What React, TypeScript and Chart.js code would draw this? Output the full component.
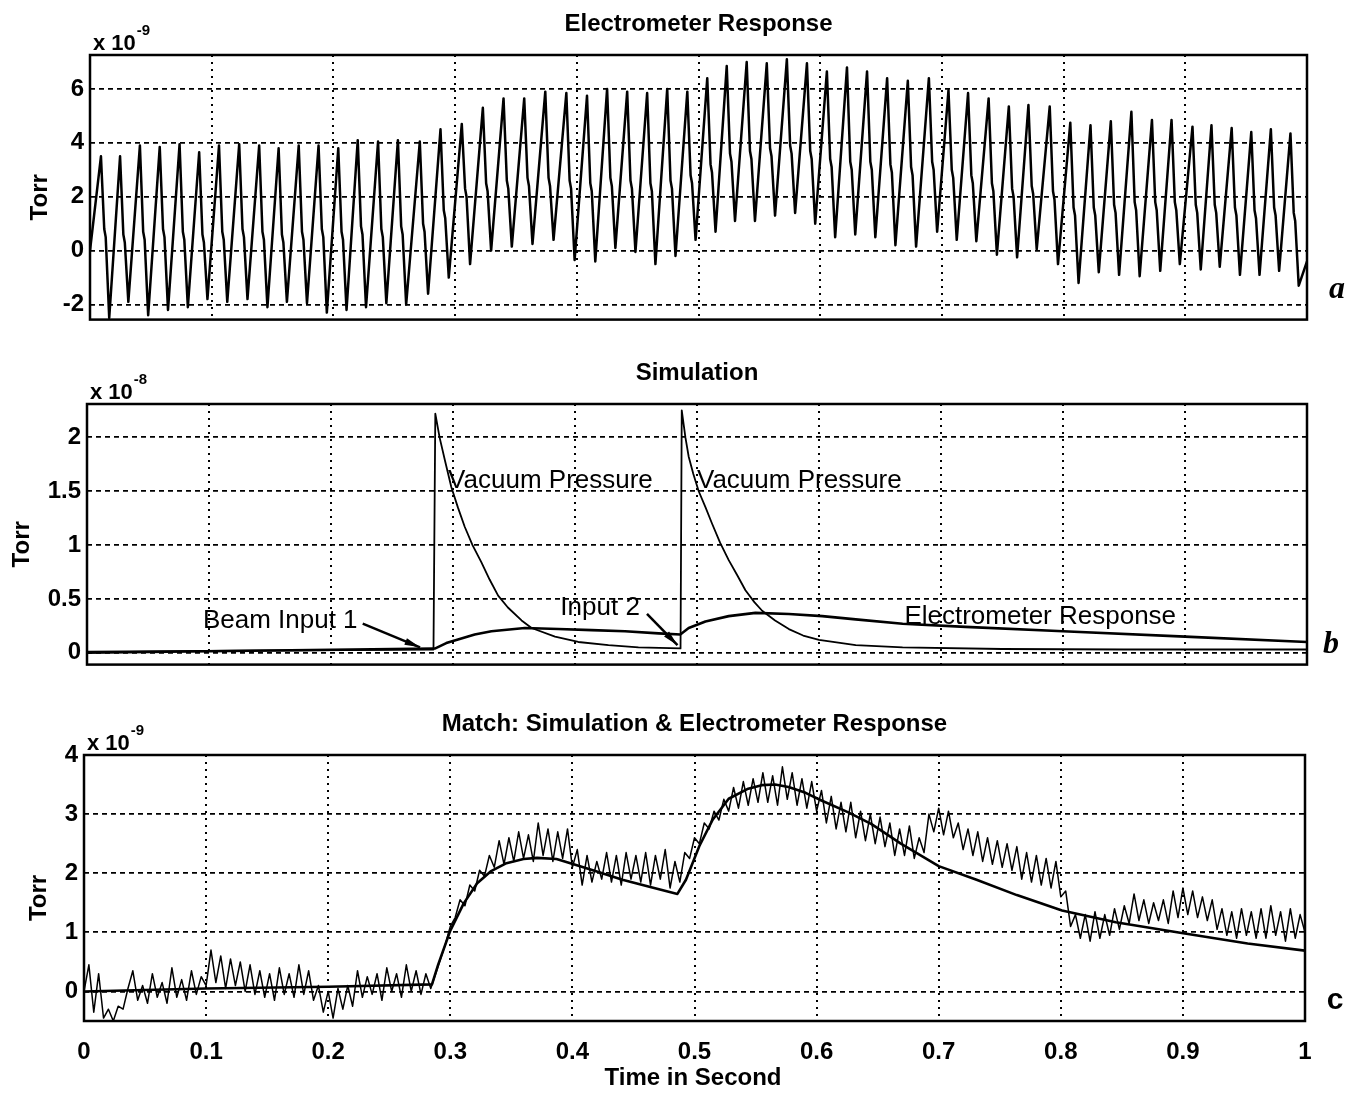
import React, { useEffect, useRef } from "react";
import { Chart, registerables } from "chart.js";

Chart.register(...registerables);

const FONT = "'Liberation Sans', Arial, Helvetica, sans-serif";

// ---------- shared x axis (time in seconds) ----------
const xTicks = [0, 0.1, 0.2, 0.3, 0.4, 0.5, 0.6, 0.7, 0.8, 0.9, 1];
const xTickLabels = ["0", "0.1", "0.2", "0.3", "0.4", "0.5", "0.6", "0.7", "0.8", "0.9", "1"];

// ---------- panel a: Electrometer Response (x 1e-9 Torr), one entry per ripple cycle ----------
const aYTicks = [-2, 0, 2, 4, 6];
const aPeakTimes = [
  0.009, 0.0247, 0.041, 0.0573, 0.0736, 0.0897, 0.106, 0.1226, 0.139, 0.155,
  0.1715, 0.1878, 0.204, 0.22, 0.2367, 0.253, 0.271, 0.288, 0.3055, 0.3228,
  0.3398, 0.3568, 0.3741, 0.3914, 0.4084, 0.4249, 0.4414, 0.4578, 0.4743, 0.4908,
  0.5072, 0.5232, 0.5396, 0.5561, 0.5726, 0.5891, 0.6055, 0.622, 0.6385, 0.655,
  0.672, 0.6893, 0.7054, 0.7215, 0.7384, 0.755, 0.7711, 0.7886, 0.8055, 0.8221,
  0.8388, 0.8557, 0.8726, 0.8887, 0.9059, 0.9215, 0.9381, 0.9542, 0.9703, 0.9864,
];
const aPeaks = [
  3.5, 3.5, 3.9, 3.85, 3.95, 3.65, 3.9, 3.95, 3.9, 3.8,
  3.9, 3.9, 3.8, 4.1, 4.05, 4.1, 4.05, 4.5, 4.7, 5.3,
  5.65, 5.65, 5.9, 5.85, 5.75, 6.0, 5.9, 5.85, 6.0, 5.9,
  6.4, 6.85, 7.0, 6.95, 7.1, 6.95, 6.65, 6.8, 6.65, 6.4,
  6.3, 6.4, 5.95, 5.85, 5.65, 5.35, 5.4, 5.35, 4.75, 4.65,
  4.8, 5.15, 4.85, 4.85, 4.6, 4.65, 4.55, 4.4, 4.5, 4.35,
];
const aShoulders = [
  0.8, 0.6, 0.7, 0.8, 0.7, 0.6, 0.7, 0.8, 0.7, 0.6,
  0.7, 0.8, 0.7, 0.9, 0.8, 0.9, 1.0, 1.5, 2.3, 2.5,
  2.6, 2.7, 2.7, 2.6, 2.5, 2.7, 2.6, 2.5, 2.6, 2.8,
  3.2, 3.6, 3.7, 3.8, 3.9, 3.7, 3.4, 3.3, 3.3, 3.2,
  3.1, 3.3, 3.0, 2.8, 2.5, 2.3, 2.4, 2.2, 1.6, 1.6,
  1.7, 1.8, 1.8, 1.8, 1.7, 1.7, 1.6, 1.5, 1.6, 1.4,
];
const aTroughs = [
  -2.5, -1.9, -2.4, -2.2, -2.1, -1.8, -1.9, -1.8, -2.1, -1.9,
  -1.95, -2.3, -2.2, -2.1, -1.95, -2.0, -1.6, -1.0, -0.5, 0.0,
  0.15, 0.25, 0.4, -0.35, -0.4, 0.1, -0.05, -0.5, -0.2, 0.4,
  0.7, 1.1, 1.1, 1.3, 1.4, 1.0, 0.5, 0.6, 0.5, 0.2,
  0.15, 0.7, 0.4, 0.35, -0.15, -0.25, 0.05, -0.5, -1.2, -0.8,
  -0.9, -0.95, -0.75, -0.5, -0.7, -0.6, -0.9, -0.9, -0.75, -1.3,
];
// waveform shape within one cycle (time lags after the peak, s)
const aShoulderLag = 0.0027;
const aShoulderEndLag = 0.0039;
const aShoulderStep = 0.3; // drop along the short shoulder step
const aTroughLag = 0.0068;
const aEdgeTimes = [0, 1];
const aEdgeValues = [0.0, -0.4];

// ---------- panel b: Simulation (x 1e-8 Torr) ----------
const bYTicks = [0, 0.5, 1, 1.5, 2];
const bVacuumTimes = [
  0, 0.284, 0.2855, 0.289, 0.2935, 0.2986, 0.304, 0.3096, 0.316, 0.3233, 0.33,
  0.337, 0.345, 0.3562, 0.3644, 0.3836, 0.4027, 0.4274, 0.452, 0.4865,
  0.4875, 0.4905, 0.4932, 0.497, 0.5014, 0.507, 0.5123, 0.519, 0.526, 0.533,
  0.5397, 0.547, 0.5534, 0.564, 0.5753, 0.587, 0.6, 0.6301, 0.6685, 0.75, 0.85, 1.0,
];
const bVacuum = [
  0.01, 0.03, 2.22, 2.0, 1.78, 1.54, 1.35, 1.17, 1.0, 0.84, 0.68,
  0.53, 0.42, 0.3, 0.23, 0.15, 0.1, 0.07, 0.05, 0.04,
  2.25, 2.0, 1.82, 1.66, 1.5, 1.35, 1.2, 1.02, 0.86, 0.72,
  0.58, 0.47, 0.39, 0.3, 0.22, 0.16, 0.12, 0.07, 0.05, 0.035, 0.03, 0.03,
];
const bResponseTimes = [
  0, 0.284, 0.2855, 0.2945, 0.3, 0.3178, 0.3315, 0.3589, 0.3863, 0.4137, 0.441,
  0.4685, 0.4863, 0.4932, 0.5069, 0.526, 0.5479, 0.5753, 0.6027, 0.6301, 0.6685,
  0.72, 0.8, 0.9, 1.0,
];
const bResponse = [
  0.0, 0.04, 0.04, 0.09, 0.11, 0.17, 0.2, 0.23, 0.22, 0.21, 0.2,
  0.18, 0.17, 0.23, 0.29, 0.34, 0.37, 0.36, 0.34, 0.31, 0.27,
  0.24, 0.2, 0.15, 0.1,
];

// ---------- panel c: Match (x 1e-9 Torr) ----------
const cYTicks = [0, 1, 2, 3, 4];
const cMeasuredStep = 0.004; // s between samples
const cMeasured = [
  0.0, 0.45, -0.35, 0.3, -0.45, -0.3, -0.5, -0.25,
  -0.3, 0.05, 0.35, -0.15, 0.1, -0.2, 0.3, -0.1, 0.15, -0.2, 0.4, -0.1, 0.2, -0.15, 0.35, -0.05, 0.25,
  0.1, 0.7, 0.15, 0.6, 0.05, 0.55, 0.1, 0.5, 0.0, 0.45, -0.05,
  0.35, -0.1, 0.3, -0.15, 0.4, -0.05, 0.3, -0.1, 0.45, -0.05, 0.35, -0.15,
  0.1, -0.35, 0.0, -0.45, 0.05, -0.3, 0.1, -0.25,
  0.35, -0.1, 0.25, -0.05, 0.3, -0.15, 0.4, 0.0, 0.3, -0.1, 0.45, 0.0, 0.35, -0.05, 0.3, 0.05,
  0.3, 0.55, 0.8, 1.1, 1.25, 1.55, 1.45, 1.8, 1.7, 2.05, 1.95,
  2.3, 2.1, 2.55, 2.15, 2.6, 2.2, 2.7, 2.25, 2.65, 2.2, 2.85, 2.3, 2.75, 2.2, 2.7, 2.25, 2.75, 2.1,
  2.4, 1.8, 2.3, 1.85, 2.2, 1.9, 2.35, 1.85, 2.3, 1.8, 2.35, 1.9, 2.3, 1.85, 2.35, 1.8, 2.3, 1.9, 2.4, 1.75, 2.2,
  1.85, 2.35, 2.25, 2.6, 2.5, 2.85, 2.75, 3.05, 2.9, 3.25, 3.05,
  3.45, 3.1, 3.55, 3.15, 3.6, 3.2, 3.7, 3.2, 3.65, 3.15, 3.8, 3.25, 3.7, 3.15, 3.6, 3.1, 3.55, 3.05,
  3.4, 2.85, 3.3, 2.75, 3.2, 2.7, 3.2, 2.6, 3.05, 2.55, 3.0, 2.5, 2.95, 2.45, 2.85, 2.3, 2.75,
  2.3, 2.8, 2.25, 2.6, 2.35,
  3.0, 2.7, 3.1, 2.65, 3.05, 2.6,
  2.85, 2.4, 2.75, 2.3, 2.7, 2.2, 2.6, 2.15, 2.55, 2.1, 2.5, 2.05, 2.45,
  1.9, 2.35, 1.85, 2.3, 1.8, 2.25, 1.75, 2.2, 1.6,
  1.7, 1.1, 1.3, 0.9, 1.3, 0.85, 1.35, 0.9, 1.3, 0.95, 1.4, 1.05, 1.45,
  1.15, 1.65, 1.2, 1.55, 1.15, 1.5, 1.2, 1.55, 1.15,
  1.7, 1.25, 1.75, 1.3, 1.7, 1.25, 1.6, 1.2, 1.55,
  1.05, 1.4, 0.95, 1.35, 0.9, 1.4, 0.95, 1.35, 0.9, 1.4, 0.9, 1.45, 0.95, 1.35, 0.85, 1.4, 0.9, 1.3, 1.0,
];
const cSimTimes = [
  0, 0.1, 0.2, 0.285, 0.29, 0.3, 0.311, 0.322, 0.333, 0.346, 0.36, 0.371, 0.387,
  0.403, 0.42, 0.441, 0.463, 0.486, 0.493, 0.504, 0.515, 0.528, 0.544, 0.555,
  0.566, 0.577, 0.591, 0.604, 0.626, 0.645, 0.669, 0.7, 0.731, 0.764, 0.801,
  0.845, 0.899, 0.953, 1.0,
];
const cSim = [
  0, 0.05, 0.08, 0.12, 0.45, 1.03, 1.49, 1.83, 2.03, 2.17, 2.24, 2.26, 2.24,
  2.14, 2.03, 1.89, 1.77, 1.65, 1.89, 2.46, 2.91, 3.26, 3.43, 3.49,
  3.5, 3.46, 3.36, 3.23, 3.03, 2.83, 2.5, 2.12, 1.89, 1.63, 1.37,
  1.17, 0.99, 0.81, 0.69,
];

// ---------- annotations (panel b, data coordinates) ----------
const bNotes = [
  { text: "Vacuum Pressure", x: 0.296, y: 1.6 },
  { text: "Vacuum Pressure", x: 0.5, y: 1.6 },
  { text: "Beam Input 1", x: 0.095, y: 0.3 },
  { text: "Input 2", x: 0.388, y: 0.42 },
  { text: "Electrometer Response", x: 0.67, y: 0.33 },
];
const bArrows = [
  { x1: 0.226, y1: 0.27, x2: 0.273, y2: 0.05 },
  { x1: 0.459, y1: 0.36, x2: 0.484, y2: 0.07 },
];

// ---------- point builders ----------
function buildAPoints() {
  const pts: { x: number; y: number }[] = [{ x: aEdgeTimes[0], y: aEdgeValues[0] }];
  aPeakTimes.forEach((t, k) => {
    pts.push({ x: t, y: aPeaks[k] });
    pts.push({ x: t + aShoulderLag, y: aShoulders[k] });
    pts.push({ x: t + aShoulderEndLag, y: aShoulders[k] - aShoulderStep });
    pts.push({ x: t + aTroughLag, y: aTroughs[k] });
  });
  pts.push({ x: aEdgeTimes[1], y: aEdgeValues[1] });
  return pts;
}
const zip = (xs: number[], ys: number[]) => xs.map((x, i) => ({ x, y: ys[i] }));

type Panel = {
  key: string;
  canvasTop: number;
  canvasHeight: number;
  left: number;
  right: number;
  top: number;
  bottom: number;
  yMin: number;
  yMax: number;
  yTicks: number[];
  showX: boolean;
  title: string;
  exponent: string;
  torrX: number;
  letter: string;
  letterX: number;
  letterY: number;
  letterFont: string;
  datasets: any[];
  notes?: { text: string; x: number; y: number }[];
  arrows?: { x1: number; y1: number; x2: number; y2: number }[];
  xTitle?: { text: string; x: number; y: number };
};

const W = 1349;

const panels: Panel[] = [
  {
    key: "a",
    canvasTop: 0,
    canvasHeight: 340,
    left: 90,
    right: 1307,
    top: 55,
    bottom: 320,
    yMin: -2.56,
    yMax: 7.26,
    yTicks: aYTicks,
    showX: false,
    title: "Electrometer Response",
    exponent: "-9",
    torrX: 40,
    letter: "a",
    letterX: 1337,
    letterY: 290,
    letterFont: "italic bold 32px 'Liberation Serif', serif",
    datasets: [{ data: buildAPoints(), borderColor: "#000", borderWidth: 2.5 }],
  },
  {
    key: "b",
    canvasTop: 340,
    canvasHeight: 345,
    left: 87,
    right: 1307,
    top: 64,
    bottom: 326,
    yMin: -0.11,
    yMax: 2.31,
    yTicks: bYTicks,
    showX: false,
    title: "Simulation",
    exponent: "-8",
    torrX: 22,
    letter: "b",
    letterX: 1331,
    letterY: 305,
    letterFont: "italic bold 32px 'Liberation Serif', serif",
    datasets: [
      { data: zip(bVacuumTimes, bVacuum), borderColor: "#000", borderWidth: 1.8 },
      { data: zip(bResponseTimes, bResponse), borderColor: "#000", borderWidth: 2.6 },
    ],
    notes: bNotes,
    arrows: bArrows,
  },
  {
    key: "c",
    canvasTop: 685,
    canvasHeight: 409,
    left: 84,
    right: 1305,
    top: 70,
    bottom: 336,
    yMin: -0.5,
    yMax: 4,
    yTicks: cYTicks,
    showX: true,
    title: "Match: Simulation & Electrometer Response",
    exponent: "-9",
    torrX: 39,
    letter: "c",
    letterX: 1335,
    letterY: 316,
    letterFont: `bold 30px ${FONT}`,
    datasets: [
      {
        data: cMeasured.map((v, i) => ({ x: i * cMeasuredStep, y: v })),
        borderColor: "#000",
        borderWidth: 1.5,
      },
      { data: zip(cSimTimes, cSim), borderColor: "#000", borderWidth: 2.6 },
    ],
    xTitle: { text: "Time in Second", x: 693, y: 393 },
  },
];

function decorPlugin(p: Panel) {
  return {
    id: "decor-" + p.key,
    afterDraw(chart: any) {
      const { ctx } = chart;
      const { left, right, top, bottom } = chart.chartArea;
      const xs = chart.scales.x;
      const ys = chart.scales.y;
      ctx.save();
      ctx.setLineDash([]);
      ctx.strokeStyle = "#000";
      ctx.fillStyle = "#000";
      ctx.lineWidth = 2.5;
      ctx.strokeRect(left, top, right - left, bottom - top);

      // title
      ctx.font = `bold 24px ${FONT}`;
      ctx.textAlign = "center";
      ctx.textBaseline = "middle";
      ctx.fillText(p.title, (left + right) / 2, top - 31);

      // exponent "x 10^-n"
      ctx.textAlign = "left";
      ctx.textBaseline = "alphabetic";
      ctx.font = `bold 22px ${FONT}`;
      const base = "x 10";
      ctx.fillText(base, left + 3, top - 5);
      const bw = ctx.measureText(base).width;
      ctx.font = `bold 15px ${FONT}`;
      ctx.fillText(p.exponent, left + 4 + bw, top - 20);

      // Torr
      ctx.save();
      ctx.translate(p.torrX, (top + bottom) / 2 + 10);
      ctx.rotate(-Math.PI / 2);
      ctx.font = `bold 24px ${FONT}`;
      ctx.textAlign = "center";
      ctx.textBaseline = "middle";
      ctx.fillText("Torr", 0, 0);
      ctx.restore();

      // panel letter
      ctx.font = p.letterFont;
      ctx.textAlign = "center";
      ctx.textBaseline = "middle";
      ctx.fillText(p.letter, p.letterX, p.letterY);

      // notes
      if (p.notes) {
        ctx.font = `26px ${FONT}`;
        ctx.textAlign = "left";
        ctx.textBaseline = "middle";
        p.notes.forEach((n) => {
          ctx.fillText(n.text, xs.getPixelForValue(n.x), ys.getPixelForValue(n.y));
        });
      }
      if (p.arrows) {
        p.arrows.forEach((a) => {
          const x1 = xs.getPixelForValue(a.x1);
          const y1 = ys.getPixelForValue(a.y1);
          const x2 = xs.getPixelForValue(a.x2);
          const y2 = ys.getPixelForValue(a.y2);
          ctx.lineWidth = 2.5;
          ctx.beginPath();
          ctx.moveTo(x1, y1);
          ctx.lineTo(x2, y2);
          ctx.stroke();
          const ang = Math.atan2(y2 - y1, x2 - x1);
          const len = 16;
          const spread = 0.22;
          ctx.beginPath();
          ctx.moveTo(x2, y2);
          ctx.lineTo(x2 - len * Math.cos(ang - spread), y2 - len * Math.sin(ang - spread));
          ctx.lineTo(x2 - len * Math.cos(ang + spread), y2 - len * Math.sin(ang + spread));
          ctx.closePath();
          ctx.fill();
        });
      }
      if (p.xTitle) {
        ctx.font = `bold 24px ${FONT}`;
        ctx.textAlign = "center";
        ctx.textBaseline = "middle";
        ctx.fillText(p.xTitle.text, p.xTitle.x, p.xTitle.y);
      }
      ctx.restore();
    },
  };
}

function buildConfig(p: Panel): any {
  const xAxisHeight = p.showX ? p.canvasHeight - p.bottom : 0;
  return {
    type: "line",
    data: {
      datasets: p.datasets.map((d) => ({
        ...d,
        pointRadius: 0,
        tension: 0,
        fill: false,
        borderJoinStyle: "round",
      })),
    },
    options: {
      animation: false,
      responsive: false,
      maintainAspectRatio: false,
      devicePixelRatio: 1,
      parsing: false,
      events: [],
      layout: {
        padding: {
          left: 0,
          right: W - p.right,
          top: p.top,
          bottom: p.showX ? 0 : p.canvasHeight - p.bottom,
        },
      },
      plugins: {
        legend: { display: false },
        title: { display: false },
        tooltip: { enabled: false },
      },
      scales: {
        x: {
          type: "linear",
          min: 0,
          max: 1,
          afterBuildTicks: (scale: any) => {
            scale.ticks = xTicks.map((v) => ({ value: v }));
          },
          afterFit: (scale: any) => {
            scale.height = xAxisHeight;
          },
          grid: { color: "#000", lineWidth: 2, drawTicks: false },
          border: { display: false, dash: [2, 5] },
          ticks: {
            display: p.showX,
            autoSkip: false,
            maxRotation: 0,
            padding: 17,
            color: "#000",
            font: { family: FONT, size: 24, weight: "bold" },
            callback: (_v: any, i: number) => xTickLabels[i],
          },
        },
        y: {
          type: "linear",
          min: p.yMin,
          max: p.yMax,
          afterBuildTicks: (scale: any) => {
            scale.ticks = p.yTicks.map((v) => ({ value: v }));
          },
          afterFit: (scale: any) => {
            scale.width = p.left;
          },
          grid: { color: "#000", lineWidth: 1.8, drawTicks: false },
          border: { display: false, dash: [5, 4] },
          ticks: {
            padding: 6,
            color: "#000",
            font: { family: FONT, size: 24, weight: "bold" },
            callback: (v: any) => String(v),
          },
        },
      },
    },
    plugins: [decorPlugin(p)],
  };
}

function PanelChart({ p }: { p: Panel }) {
  const ref = useRef<HTMLCanvasElement>(null);
  useEffect(() => {
    const chart = new Chart(ref.current as HTMLCanvasElement, buildConfig(p));
    return () => chart.destroy();
  }, [p]);
  return (
    <canvas
      ref={ref}
      width={W}
      height={p.canvasHeight}
      style={{ position: "absolute", left: 0, top: p.canvasTop, width: W, height: p.canvasHeight }}
    />
  );
}

export default function App() {
  return (
    <div style={{ position: "absolute", left: 0, top: 0, width: W, height: 1094, background: "#fff", overflow: "hidden" }}>
      {panels.map((p) => (
        <PanelChart key={p.key} p={p} />
      ))}
    </div>
  );
}
